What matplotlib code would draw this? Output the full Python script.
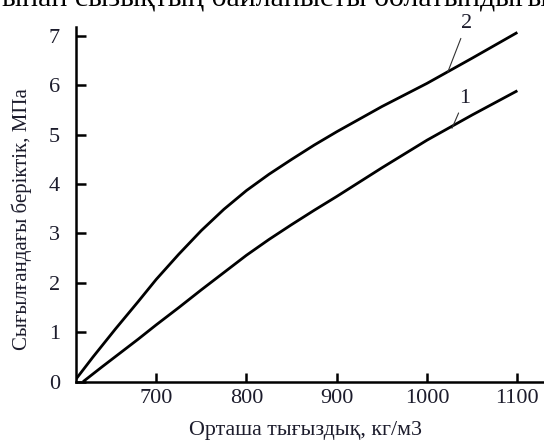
import matplotlib
matplotlib.use("Agg")
import matplotlib.pyplot as plt

# Data
density_2 = [609, 630, 655, 680, 700, 725, 750, 775, 800, 825, 850, 875, 900, 950, 1000, 1050, 1100]
strength_2 = [0.0, 0.5, 1.07, 1.62, 2.07, 2.58, 3.06, 3.49, 3.87, 4.2, 4.5, 4.79, 5.06, 5.57, 6.04, 6.55, 7.07]
density_1 = [619, 640, 655, 680, 700, 725, 750, 775, 800, 825, 850, 875, 900, 950, 1000, 1050, 1100]
strength_1 = [0.0, 0.3, 0.51, 0.86, 1.15, 1.5, 1.86, 2.21, 2.56, 2.88, 3.18, 3.47, 3.75, 4.33, 4.89, 5.4, 5.89]
x_ticks = [700, 800, 900, 1000, 1100]
y_ticks = [0, 1, 2, 3, 4, 5, 6, 7]
xlabel = "Орташа тығыздық, кг/м3"
ylabel = "Сығылғандағы беріктік, МПа"
top_text = "ынан сызықтың байланысты болатындығы"

plt.rcParams['font.family'] = ['Liberation Serif', 'DejaVu Serif']
txt_color = '#1c1c2c'

fig = plt.figure(figsize=(5.44, 4.41), dpi=100)
ax = fig.add_axes([76/544, (441-381.7)/441, 1 - 76/544, (381.7-27)/441])

ax.plot(density_2, strength_2, color='black', lw=2.0, solid_capstyle='butt', solid_joinstyle='round')
ax.plot(density_1, strength_1, color='black', lw=2.0, solid_capstyle='butt', solid_joinstyle='round')

ax.set_xlim(611.2, 1129.5)
ax.set_ylim(0, 7.18)
ax.set_xticks(x_ticks)
ax.set_yticks(y_ticks)
for s in ['top', 'right']:
    ax.spines[s].set_visible(False)
for s in ['left', 'bottom']:
    ax.spines[s].set_linewidth(1.8)
ax.tick_params(axis='x', direction='in', length=6.5, width=1.8, pad=5.5,
               labelsize=16, labelcolor=txt_color)
ax.tick_params(axis='y', direction='in', length=7, width=1.8, pad=11.5,
               labelsize=16, labelcolor=txt_color)

ax.annotate("2", xy=(1023, 6.27), xytext=(1043.8, 7.25), ha='center', va='center',
            fontsize=16, color=txt_color, annotation_clip=False,
            arrowprops=dict(arrowstyle='-', lw=0.8, color='#333333', shrinkA=2, shrinkB=0))
ax.annotate("1", xy=(1027.6, 5.13), xytext=(1042, 5.74), ha='center', va='center',
            fontsize=16, color=txt_color, annotation_clip=False,
            arrowprops=dict(arrowstyle='-', lw=0.8, color='#333333', shrinkA=2, shrinkB=0))

fig.text(305.8/544, 1 - 430/441, xlabel, ha='center', va='center', fontsize=15.8, color=txt_color)
fig.text(22/544, 1 - 219/441, ylabel, ha='center', va='center', rotation=90,
         fontsize=15, color=txt_color)
fig.text(275/544, 1 - 7/441, top_text, ha='center', va='baseline', fontsize=21.5, color='black')

fig.savefig("out.png", dpi=100)
